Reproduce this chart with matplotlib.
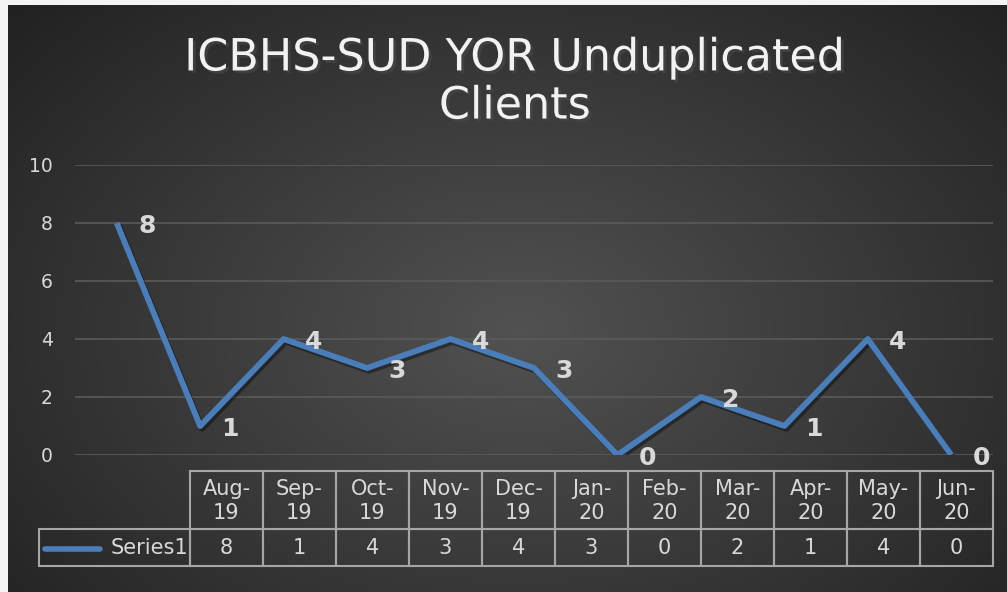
import numpy as np
import matplotlib
matplotlib.use('Agg')
import matplotlib.pyplot as plt
import matplotlib.patheffects as pe
from matplotlib.patches import Rectangle

months = ['Aug-\n19', 'Sep-\n19', 'Oct-\n19', 'Nov-\n19', 'Dec-\n19', 'Jan-\n20',
          'Feb-\n20', 'Mar-\n20', 'Apr-\n20', 'May-\n20', 'Jun-\n20']
clients = [8, 1, 4, 3, 4, 3, 0, 2, 1, 4, 0]
series_name = 'Series1'
title = 'ICBHS-SUD YOR Unduplicated\nClients'

W, H = 1007, 592
blue = '#4a7ebb'
txt = '#d9d9d9'
grid_c = '#5a5a5a'
edge_c = '#a6a6a6'

fig = plt.figure(figsize=(W / 100, H / 100), dpi=100)
fig.patch.set_facecolor('#f4f4f4')

def px_axes(x0, y0, x1, y1, **kw):
    # axes from pixel box (top-left origin)
    return fig.add_axes([x0 / W, 1 - y1 / H, (x1 - x0) / W, (y1 - y0) / H], **kw)

# radial gradient background
bg = px_axes(8, 5, W, H)
yy, xx = np.mgrid[5:H, 8:W]
r = np.sqrt(((xx - 520) / 620) ** 2 + ((yy - 330) / 430) ** 2)
shade = np.clip(0.32 - 0.17 * r, 0.13, 0.32)
bg.imshow(np.dstack([shade] * 3), aspect='auto', extent=[0, 1, 0, 1])
bg.set_axis_off()

fig.text(515 / W, 1 - 82 / H, title, ha='center', va='center', color='#f2f2f2',
         fontsize=32, linespacing=1.15, family='DejaVu Sans',
         path_effects=[pe.withSimplePatchShadow(offset=(2, -2), alpha=0.6)])

# line chart
ax = px_axes(75, 165, 993, 455)
ax.patch.set_alpha(0)
x = np.arange(len(clients))
ax.plot(x, clients, color=blue, lw=4.2, solid_capstyle='butt', zorder=3,
        path_effects=[pe.SimpleLineShadow(offset=(1.5, -2), alpha=0.4), pe.Normal()])
for xi, v in zip(x, clients):
    ax.annotate(str(v), (xi, v), xytext=(30, -3), textcoords='offset pixels',
                ha='center', va='center', color=txt, fontsize=18, fontweight='bold',
                zorder=4)
ax.set_xlim(-0.5, len(clients) - 0.5)
ax.set_ylim(0, 10)
ax.set_yticks(range(0, 11, 2))
ax.set_xticks([])
ax.grid(axis='y', color=grid_c, lw=1.2)
ax.set_axisbelow(True)
ax.tick_params(axis='y', length=0, colors=txt, labelsize=13.5, pad=16)
for s in ax.spines.values():
    s.set_visible(False)

# data table
tb = px_axes(37, 469, 995, 568)
tb.set_xlim(37, 995)
tb.set_ylim(568, 469)
tb.set_axis_off()
left, top, mid, bot = 190, 471, 529, 566
cw = (993 - left) / len(months)
for i, (m, v) in enumerate(zip(months, clients)):
    cx = left + i * cw
    tb.add_patch(Rectangle((cx, top), cw, mid - top, fill=False, ec=edge_c, lw=1.5))
    tb.add_patch(Rectangle((cx, mid), cw, bot - mid, fill=False, ec=edge_c, lw=1.5))
    tb.text(cx + cw / 2, (top + mid) / 2 + 1, m, ha='center', va='center', color=txt,
            fontsize=15, linespacing=1.25)
    tb.text(cx + cw / 2, (mid + bot) / 2 + 1, str(v), ha='center', va='center',
            color=txt, fontsize=15)
tb.add_patch(Rectangle((39, mid), left - 39, bot - mid, fill=False, ec=edge_c, lw=1.5))
tb.plot([45, 100], [(mid + bot) / 2 + 1] * 2, color=blue, lw=4, solid_capstyle='round')
tb.text(188, (mid + bot) / 2 + 1, series_name, ha='right', va='center', color=txt,
        fontsize=15)

fig.savefig('out.png', dpi=100, facecolor=fig.get_facecolor())
